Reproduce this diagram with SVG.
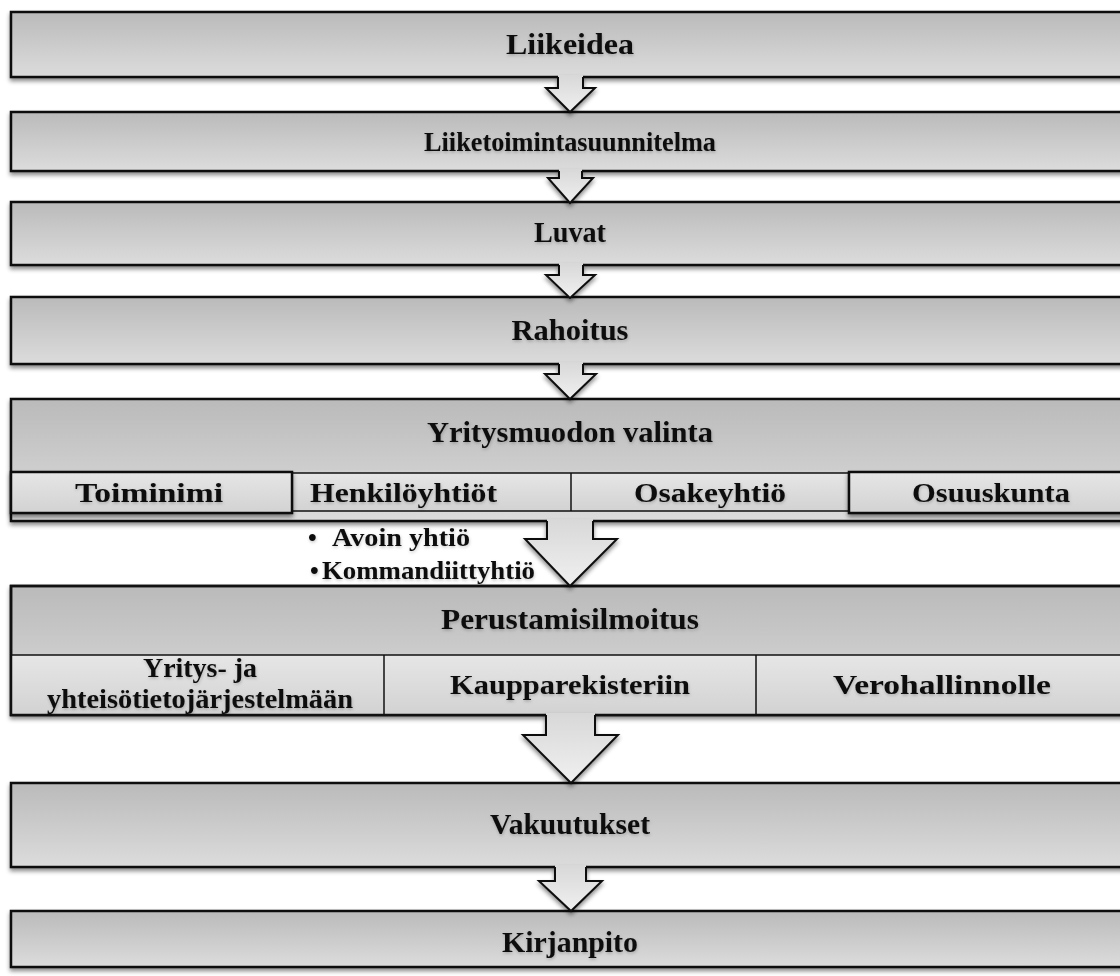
<svg xmlns="http://www.w3.org/2000/svg" width="1120" height="976" viewBox="0 0 1120 976">
<defs>
<linearGradient id="boxGrad" x1="0" y1="0" x2="0" y2="1">
<stop offset="0" stop-color="#bababa"/>
<stop offset="1" stop-color="#dcdcdc"/>
</linearGradient>
<linearGradient id="cellGrad" x1="0" y1="0" x2="0" y2="1">
<stop offset="0" stop-color="#e6e6e6"/>
<stop offset="1" stop-color="#d2d2d2"/>
</linearGradient>
<linearGradient id="arrowGrad" x1="0" y1="0" x2="0" y2="1">
<stop offset="0" stop-color="#d8d8d8"/>
<stop offset="1" stop-color="#f0f0f0"/>
</linearGradient>
<filter id="shadow" x="-5%" y="-20%" width="110%" height="150%">
<feDropShadow dx="0" dy="3" stdDeviation="2" flood-color="#000" flood-opacity="0.45"/>
</filter>
<filter id="tshadow" x="-10%" y="-30%" width="120%" height="180%">
<feDropShadow dx="0.5" dy="1.5" stdDeviation="1.5" flood-color="#000" flood-opacity="0.22"/>
</filter>
</defs>
<style>
.box{fill:url(#boxGrad);stroke:#111;stroke-width:2.5;filter:url(#shadow)}
.cell{fill:url(#cellGrad);stroke:#111;stroke-width:1.5}
.cellr{fill:url(#cellGrad);stroke:#111;stroke-width:2.5;filter:url(#shadow)}
.t{font-family:"Liberation Serif","Times New Roman",serif;font-weight:bold;font-size:29px;fill:#111;text-anchor:middle;filter:url(#tshadow)}
.c{font-family:"Liberation Serif","Times New Roman",serif;font-weight:bold;font-size:28px;fill:#111;text-anchor:middle;filter:url(#tshadow)}
.b{font-family:"Liberation Serif","Times New Roman",serif;font-weight:bold;font-size:25px;fill:#111;filter:url(#tshadow)}
.af{fill:url(#arrowGrad);stroke:none}
.as{fill:none;stroke:#111;stroke-width:2;stroke-linejoin:miter}
</style>

<g id="n1">
<rect class="box" x="11" y="12" width="1118" height="65"/>
<text class="t" x="570" y="54" textLength="128" lengthAdjust="spacingAndGlyphs">Liikeidea</text>
</g>
<g id="n2">
<rect class="box" x="11" y="112" width="1118" height="59"/>
<text class="t" x="570" y="151" style="font-size:27px" textLength="292" lengthAdjust="spacingAndGlyphs">Liiketoimintasuunnitelma</text>
</g>
<g id="n3">
<rect class="box" x="11" y="202" width="1118" height="63"/>
<text class="t" x="570" y="242" textLength="72" lengthAdjust="spacingAndGlyphs">Luvat</text>
</g>
<g id="n4">
<rect class="box" x="11" y="297" width="1118" height="67"/>
<text class="t" x="570" y="340" textLength="117" lengthAdjust="spacingAndGlyphs">Rahoitus</text>
</g>
<g id="n5">
<rect class="box" x="11" y="399" width="1118" height="122"/>
<text class="t" x="570" y="442" textLength="286" lengthAdjust="spacingAndGlyphs">Yritysmuodon valinta</text>
<rect class="cell" x="11" y="473" width="1118" height="38"/>
<line x1="571" y1="473" x2="571" y2="511" stroke="#111" stroke-width="1.5"/>
<rect class="cellr" x="11" y="472" width="281" height="41"/>
<rect class="cellr" x="849" y="472" width="280" height="41"/>
<text class="c" x="149" y="502" textLength="148" lengthAdjust="spacingAndGlyphs">Toiminimi</text>
<text class="c" x="310" y="502" style="text-anchor:start" textLength="187" lengthAdjust="spacingAndGlyphs">Henkilöyhtiöt</text>
<text class="c" x="710" y="502" textLength="152" lengthAdjust="spacingAndGlyphs">Osakeyhtiö</text>
<text class="c" x="991" y="502" textLength="158" lengthAdjust="spacingAndGlyphs">Osuuskunta</text>
</g>
<g id="n5-sub">
<text class="b" x="308" y="546">•</text>
<text class="b" x="332" y="546" textLength="138" lengthAdjust="spacingAndGlyphs">Avoin yhtiö</text>
<text class="b" x="310" y="579">•</text>
<text class="b" x="322" y="579" textLength="213" lengthAdjust="spacingAndGlyphs">Kommandiittyhtiö</text>
</g>
<g id="n6">
<rect class="box" x="11" y="586" width="1118" height="129"/>
<text class="t" x="570" y="629" textLength="258" lengthAdjust="spacingAndGlyphs">Perustamisilmoitus</text>
<rect class="cell" x="11" y="655" width="1118" height="60"/>
<line x1="384" y1="655" x2="384" y2="715" stroke="#111" stroke-width="1.5"/>
<line x1="756" y1="655" x2="756" y2="715" stroke="#111" stroke-width="1.5"/>
<rect x="11" y="586" width="1118" height="129" fill="none" stroke="#111" stroke-width="2.5"/>
<text class="c" x="200" y="677" textLength="114" lengthAdjust="spacingAndGlyphs">Yritys- ja</text>
<text class="c" x="200" y="708" textLength="306" lengthAdjust="spacingAndGlyphs">yhteisötietojärjestelmään</text>
<text class="c" x="570" y="694" textLength="240" lengthAdjust="spacingAndGlyphs">Kaupparekisteriin</text>
<text class="c" x="942" y="694" textLength="218" lengthAdjust="spacingAndGlyphs">Verohallinnolle</text>
</g>
<g id="n7">
<rect class="box" x="11" y="783" width="1118" height="84"/>
<text class="t" x="570" y="834" textLength="160" lengthAdjust="spacingAndGlyphs">Vakuutukset</text>
</g>
<g id="n8">
<rect class="box" x="11" y="911" width="1118" height="56"/>
<text class="t" x="570" y="952" textLength="136" lengthAdjust="spacingAndGlyphs">Kirjanpito</text>
</g>

<g id="connectors" filter="url(#shadow)">
<path class="af" d="M558,75 L558,88 L546,88 L570,112 L595,88 L583,88 L583,75 Z"/>
<path class="as" d="M558,77 L558,88 L546,88 L570,112 L595,88 L583,88 L583,77"/>
<path class="af" d="M559,169 L559,178 L548,178 L570,203 L593,178 L582,178 L582,169 Z"/>
<path class="as" d="M559,171 L559,178 L548,178 L570,203 L593,178 L582,178 L582,171"/>
<path class="af" d="M559,263 L559,275 L546,275 L570,298 L595,275 L583,275 L583,263 Z"/>
<path class="as" d="M559,265 L559,275 L546,275 L570,298 L595,275 L583,275 L583,265"/>
<path class="af" d="M559,362 L559,374 L545,374 L570,399 L596,374 L583,374 L583,362 Z"/>
<path class="as" d="M559,364 L559,374 L545,374 L570,399 L596,374 L583,374 L583,364"/>
<path class="af" d="M547,519 L547,539 L525,539 L570,586 L617,539 L593,539 L593,519 Z"/>
<path class="as" d="M547,521 L547,539 L525,539 L570,586 L617,539 L593,539 L593,521"/>
<path class="af" d="M546,713 L546,735 L523,735 L571,783 L618,735 L595,735 L595,713 Z"/>
<path class="as" d="M546,715 L546,735 L523,735 L571,783 L618,735 L595,735 L595,715"/>
<path class="af" d="M555,865 L555,881 L539,881 L571,911 L602,881 L586,881 L586,865 Z"/>
<path class="as" d="M555,867 L555,881 L539,881 L571,911 L602,881 L586,881 L586,867"/>
</g>
</svg>
